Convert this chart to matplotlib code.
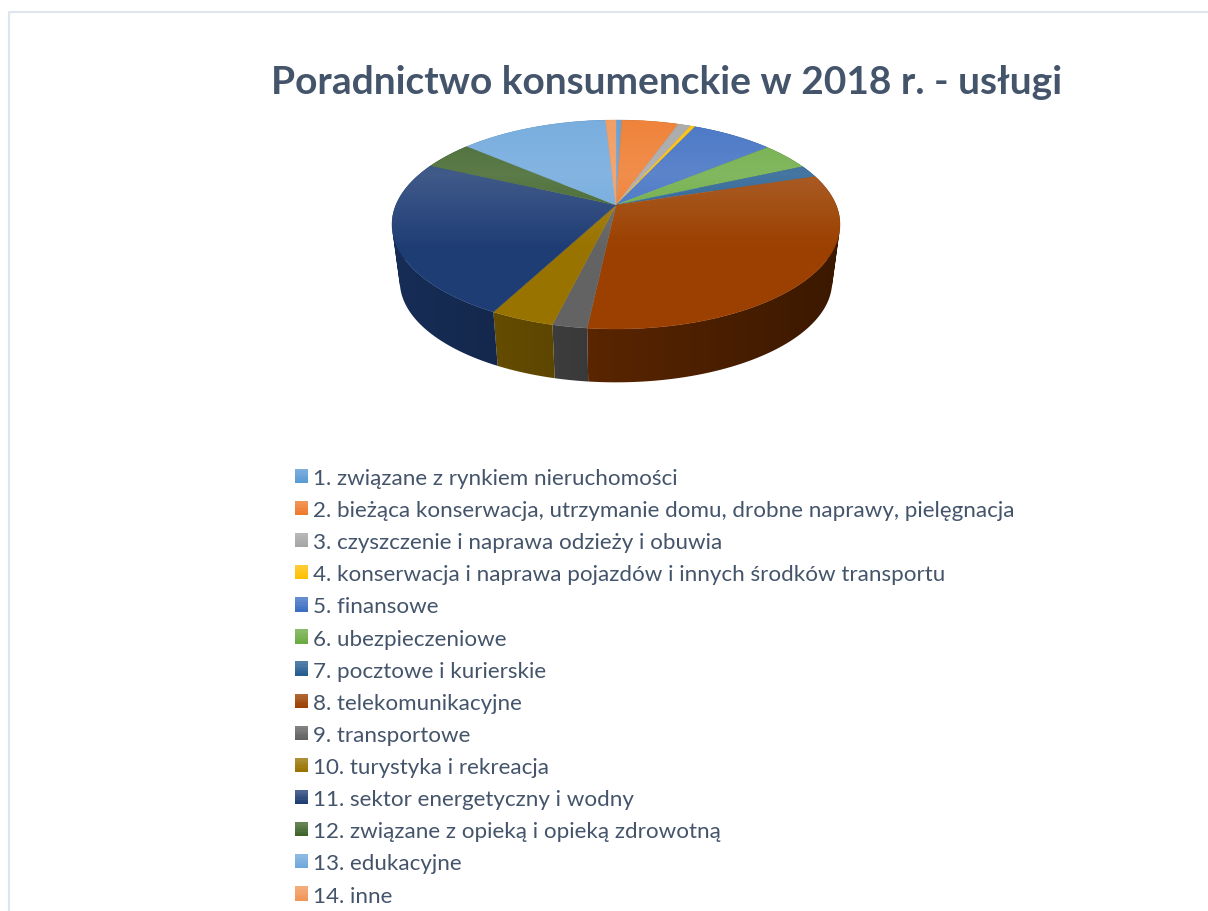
import numpy as np
import matplotlib
matplotlib.use("Agg")
import matplotlib.pyplot as plt
from matplotlib.colors import to_rgb
from matplotlib.legend_handler import HandlerPatch
from matplotlib.patches import Patch, Polygon, Rectangle
from matplotlib.path import Path

plt.rcParams['font.family'] = ['Lato', 'DejaVu Sans']

# ============================================
# DATA
# ============================================
TITLE = "Poradnictwo konsumenckie w 2018 r. - usługi"
labels = [
    "1. związane z rynkiem nieruchomości",
    "2. bieżąca konserwacja, utrzymanie domu, drobne naprawy, pielęgnacja",
    "3. czyszczenie i naprawa odzieży i obuwia",
    "4. konserwacja i naprawa pojazdów i innych środków transportu",
    "5. finansowe",
    "6. ubezpieczeniowe",
    "7. pocztowe i kurierskie",
    "8. telekomunikacyjne",
    "9. transportowe",
    "10. turystyka i rekreacja",
    "11. sektor energetyczny i wodny",
    "12. związane z opieką i opieką zdrowotną",
    "13. edukacyjne",
    "14. inne",
]
values = [0.5, 4.9, 1.1, 0.4, 7.1, 4.3, 1.9, 31.5, 2.1, 3.9, 24.2, 4.4, 12.8, 0.9]
colors = ["#5B9BD5", "#EE7A2C", "#A5A5A5", "#FFC000", "#3F6FC2", "#6CAB43", "#255E91",
          "#9B4000", "#636363", "#997300", "#1F3D75", "#3F6429", "#6FA8DC", "#F1975A"]

TEXT_COLOR = "#44546A"
FRAME_COLOR = "#DFE5EC"

# pie geometry, in figure pixels
APEX_X, APEX_Y = 616, 206
BACK_UP, FRONT_DOWN = 85, 124      # rim distance from the apex, back and front
RIM_WIDTH = 224
BOTTOM_SHIFT = 57
BOTTOM_SCALE = 0.965


def project(t):
    """Clockwise angle from 12 o'clock -> point on the top rim (perspective)."""
    X, Y = np.sin(t), np.cos(t)
    c = (FRONT_DOWN - BACK_UP) / (FRONT_DOWN + BACK_UP)
    a = BACK_UP * (1 + c)
    d = RIM_WIDTH * np.sqrt(1 - c ** 2)
    w = 1 + c * Y
    return APEX_X + d * X / w, APEX_Y - a * Y / w


def project_bottom(t):
    x, y = project(t)
    mid_y = APEX_Y + (FRONT_DOWN - BACK_UP) / 2
    return APEX_X + (x - APEX_X) * BOTTOM_SCALE, mid_y + BOTTOM_SHIFT + (y - mid_y) * BOTTOM_SCALE


def wall_path(ts):
    """Union of quads between the two rims, all wound the same way."""
    x_top, y_top = project(ts)
    x_bot, y_bot = project_bottom(ts)
    quads = []
    for k in range(len(ts) - 1):
        q = np.array([(x_top[k], y_top[k]), (x_top[k + 1], y_top[k + 1]),
                      (x_bot[k + 1], y_bot[k + 1]), (x_bot[k], y_bot[k]), (x_top[k], y_top[k])])
        area = np.sum(q[:-1, 0] * q[1:, 1] - q[1:, 0] * q[:-1, 1])
        quads.append(Path(q if area > 0 else q[::-1], closed=True))
    return Path.make_compound_path(*quads)


fig = plt.figure(figsize=(12.08, 9.12), dpi=100)
ax = fig.add_axes([0, 0, 1, 1])
ax.axis("off")

# frame of the pasted chart
ax.plot([1208, 9, 9], [13, 13, 912], color=FRAME_COLOR, lw=1.5, zorder=1)

edges = np.concatenate([[0], np.cumsum(values)]) / np.sum(values) * 2 * np.pi
left, right = APEX_X - RIM_WIDTH, APEX_X + RIM_WIDTH

# ============================================
# SIDE WALL
# ============================================
# darker towards the right, one horizontal gradient per slice
shade = np.linspace(0.74, 0.38, 200)[None, :, None]
for i, col in enumerate(colors):
    ts = np.linspace(edges[i], edges[i + 1], 80)
    im = ax.imshow(np.array(to_rgb(col))[None, None, :] * shade,
                   extent=(left, right, 400, 120), aspect="auto", zorder=2)
    im.set_clip_path(wall_path(ts), transform=ax.transData)

# ============================================
# TOP FACE
# ============================================
for i, col in enumerate(colors):
    ts = np.linspace(edges[i], edges[i + 1], max(2, int((edges[i + 1] - edges[i]) * 100)))
    xs, ys = project(ts)
    ax.fill(np.r_[APEX_X, xs], np.r_[APEX_Y, ys], facecolor=col, edgecolor=col, lw=0.3, zorder=3)

# light falling on the back of the top face
glow_y = np.arange(120, 251)
glow = np.ones((len(glow_y), 1, 4))
glow[:, 0, 3] = np.interp(glow_y, [120, 175, 250], [0.07, 0.15, 0.0])
img = ax.imshow(glow, extent=(left, right, 250, 120), aspect="auto", zorder=4,
                interpolation="bilinear")
rim_x, rim_y = project(np.linspace(0, 2 * np.pi, 300))
clip = Polygon(np.c_[rim_x, rim_y], transform=ax.transData, fill=False, lw=0)
ax.add_patch(clip)
img.set_clip_path(clip)

ax.set_xlim(0, 1208)
ax.set_ylim(912, 0)

ax.text(666.5, 82, TITLE, ha="center", va="center", fontsize=28, fontweight="bold",
        color=TEXT_COLOR, zorder=5)


# ============================================
# LEGEND
# ============================================
class GradientSquare(HandlerPatch):
    def create_artists(self, legend, orig_handle, xdescent, ydescent, width, height, fontsize, trans):
        base = np.array(to_rgb(orig_handle.get_facecolor()))
        n = 6
        strips = []
        for k in range(n):
            mix = 0.2 * (k / (n - 1))
            col = base + (1 - base) * mix
            strips.append(Rectangle((-xdescent, -ydescent + height * k / n), width, height / n + 0.3,
                                    facecolor=col, edgecolor="none", transform=trans))
        return strips


handles = [Patch(facecolor=c, label=l) for c, l in zip(colors, labels)]
ax.legend(handles=handles, loc="upper left", bbox_to_anchor=(295, 469),
          bbox_transform=ax.transData, frameon=False, fontsize=16.1,
          labelcolor=TEXT_COLOR, handlelength=0.58, handleheight=0.58,
          handletextpad=0.22, labelspacing=0.542, borderpad=0, borderaxespad=0,
          handler_map={Patch: GradientSquare()})

plt.savefig("out.png", dpi=100)
plt.close()
